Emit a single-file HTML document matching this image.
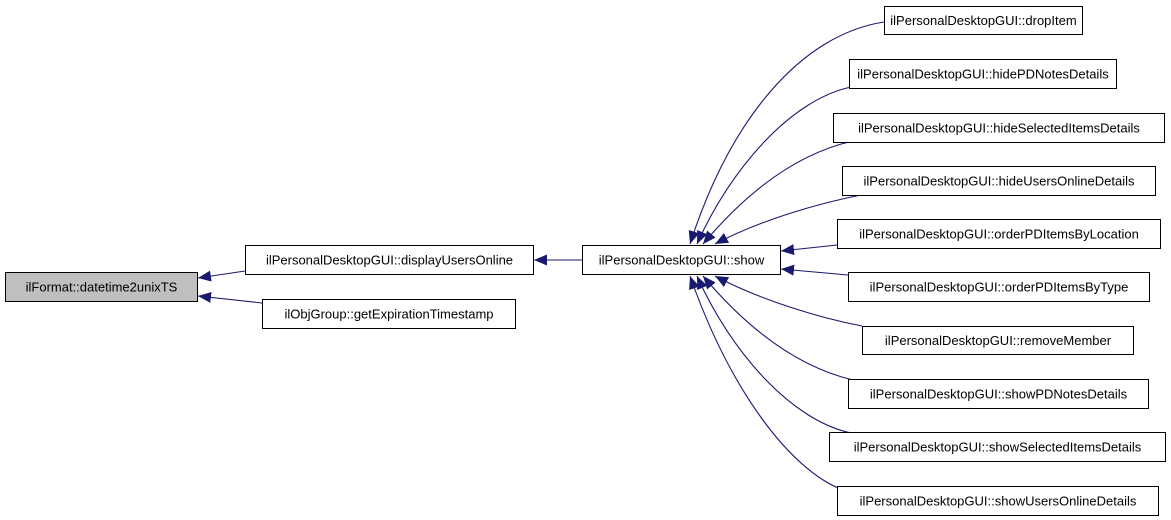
<!DOCTYPE html>
<html><head><meta charset="utf-8"><style>
html,body{margin:0;padding:0;background:#fff;}
svg{display:block;}
text{font-family:"Liberation Sans","DejaVu Sans",sans-serif;font-size:13px;fill:#000;}
</style></head><body>
<svg width="1171" height="520" viewBox="0 0 1171 520" xmlns="http://www.w3.org/2000/svg">
<defs>
<marker id="a" markerUnits="userSpaceOnUse" markerWidth="13" markerHeight="11" viewBox="0 0 13 11" refX="13" refY="5.5" orient="auto">
<path d="M0,0 L13,5.5 L0,11 z" fill="#191970"/>
</marker>
</defs>
<g fill="none" stroke="#191970" stroke-width="1.1" marker-end="url(#a)">
<path d="M884,22 C800,35 730,120 690,244"/>
<path d="M851,87 C790,100 730,170 697,244"/>
<path d="M853,141 C790,155 740,200 703,244"/>
<path d="M861,195 C820,203 760,220 715,244"/>
<path d="M837,245 L781,251"/>
<path d="M848,275 L781,269"/>
<path d="M862,326 C820,318 760,300 715,276"/>
<path d="M853,380 C790,365 740,320 703,276"/>
<path d="M851,433 C790,420 730,350 697,276"/>
<path d="M843,490 C790,470 730,390 690,276"/>
<path d="M582,260 L534,260"/>
<path d="M245,271 L198,278"/>
<path d="M262,303 L198,296"/>
</g>
<g stroke="#000" stroke-width="1" fill="#fff">
<rect x="5.5" y="272.5" width="192" height="29" fill="#bfbfbf"/>
<rect x="245.5" y="245.5" width="288" height="29"/>
<rect x="262.5" y="299.5" width="253" height="29"/>
<rect x="582.5" y="245.5" width="198" height="29"/>
<rect x="884.5" y="6.5" width="198" height="28"/>
<rect x="849.5" y="59.5" width="267" height="29"/>
<rect x="833.5" y="113.5" width="331" height="29"/>
<rect x="842.5" y="166.5" width="313" height="29"/>
<rect x="837.5" y="219.5" width="323" height="29"/>
<rect x="848.5" y="272.5" width="301" height="29"/>
<rect x="862.5" y="326.5" width="271" height="28"/>
<rect x="848.5" y="379.5" width="300" height="29"/>
<rect x="829.5" y="432.5" width="336" height="29"/>
<rect x="837.5" y="486.5" width="321" height="29"/>
</g>
<g text-anchor="middle">
<text x="101.5" y="291.5">ilFormat::datetime2unixTS</text>
<text x="389.5" y="264.5">ilPersonalDesktopGUI::displayUsersOnline</text>
<text x="389" y="318.5">ilObjGroup::getExpirationTimestamp</text>
<text x="681.5" y="264.5">ilPersonalDesktopGUI::show</text>
<text x="983.5" y="25">ilPersonalDesktopGUI::dropItem</text>
<text x="983" y="78.5">ilPersonalDesktopGUI::hidePDNotesDetails</text>
<text x="999" y="132.5">ilPersonalDesktopGUI::hideSelectedItemsDetails</text>
<text x="999" y="185.5">ilPersonalDesktopGUI::hideUsersOnlineDetails</text>
<text x="999" y="238.5">ilPersonalDesktopGUI::orderPDItemsByLocation</text>
<text x="999" y="291.5">ilPersonalDesktopGUI::orderPDItemsByType</text>
<text x="998" y="345">ilPersonalDesktopGUI::removeMember</text>
<text x="998.5" y="398.5">ilPersonalDesktopGUI::showPDNotesDetails</text>
<text x="997.5" y="451.5">ilPersonalDesktopGUI::showSelectedItemsDetails</text>
<text x="998" y="505.5">ilPersonalDesktopGUI::showUsersOnlineDetails</text>
</g>
</svg>
</body></html>
